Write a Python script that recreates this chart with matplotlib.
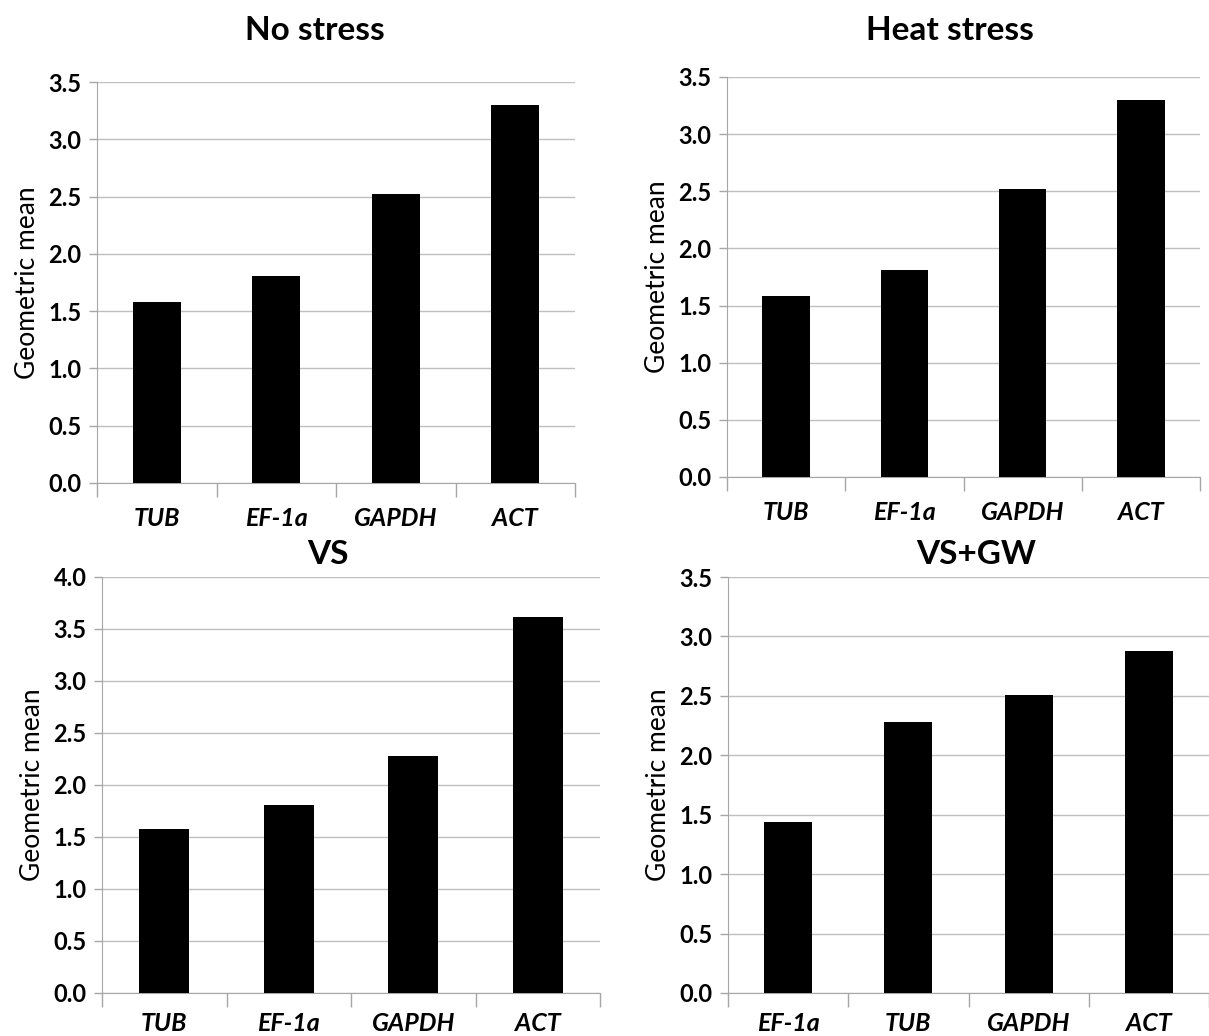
import matplotlib
matplotlib.use("Agg")
import matplotlib.pyplot as plt
import numpy as np

## data
titles = ["No stress", "Heat stress", "VS", "VS+GW"]
genes_ns = ["TUB", "EF-1a", "GAPDH", "ACT"]
vals_ns = [1.58, 1.81, 2.52, 3.30]
genes_hs = ["TUB", "EF-1a", "GAPDH", "ACT"]
vals_hs = [1.58, 1.81, 2.52, 3.30]
genes_vs = ["TUB", "EF-1a", "GAPDH", "ACT"]
vals_vs = [1.58, 1.81, 2.28, 3.62]
genes_gw = ["EF-1a", "TUB", "GAPDH", "ACT"]
vals_gw = [1.44, 2.28, 2.51, 2.88]
ymax = [3.5, 3.5, 4.0, 3.5]

plt.rcParams['font.family'] = ['Lato', 'DejaVu Sans']

W, H = 1209, 1036
fig = plt.figure(figsize=(W/100, H/100), dpi=100)

# axes boxes in pixels: left, top, right, bottom
boxes = [(97, 82, 575, 483), (727, 77, 1200, 477),
         (102, 577, 600, 993), (728, 577, 1209, 993)]
# title centres in pixels
title_pos = [(315, 30), (950, 30), (328, 555), (976, 555)]
data = [(genes_ns, vals_ns), (genes_hs, vals_hs), (genes_vs, vals_vs), (genes_gw, vals_gw)]
grey = "#a6a6a6"

for i in range(4):
    l, t, r, b = boxes[i]
    ax = fig.add_axes([l/W, 1-b/H, (r-l)/W, (b-t)/H])
    genes, vals = data[i]
    x = np.arange(len(genes))
    ax.bar(x, vals, width=0.4, color="black", zorder=3)
    ax.set_xlim(-0.5, len(genes)-0.5)
    ax.set_ylim(0, ymax[i])
    ax.set_yticks(np.arange(0, ymax[i]+0.01, 0.5))
    ax.set_yticklabels(["%.1f" % v for v in np.arange(0, ymax[i]+0.01, 0.5)],
                       fontsize=17, fontweight="bold")
    ax.yaxis.grid(True, color="#bfbfbf", linewidth=1, zorder=0)
    # category boundaries get the tick marks, centers get the labels
    ax.set_xticks(np.arange(-0.5, len(genes), 1.0))
    ax.set_xticklabels([])
    ax.set_xticks(x, minor=True)
    ax.set_xticklabels(genes, minor=True, fontsize=18, fontweight="bold", style="italic")
    ax.tick_params(axis="x", which="major", length=10, color=grey, width=1)
    ax.tick_params(axis="x", which="minor", length=0, pad=17 if i < 2 else 14)
    ax.tick_params(axis="y", length=6, color=grey, width=1, pad=5)
    for s in ["top", "right"]:
        ax.spines[s].set_visible(False)
    for s in ["left", "bottom"]:
        ax.spines[s].set_color(grey)
    ax.set_ylabel("Geometric mean", fontsize=19, labelpad=6)
    tx, ty = title_pos[i]
    fig.text(tx/W, 1-ty/H, titles[i], fontsize=24, fontweight="bold", ha="center", va="center")

plt.savefig("out.png", dpi=100)
